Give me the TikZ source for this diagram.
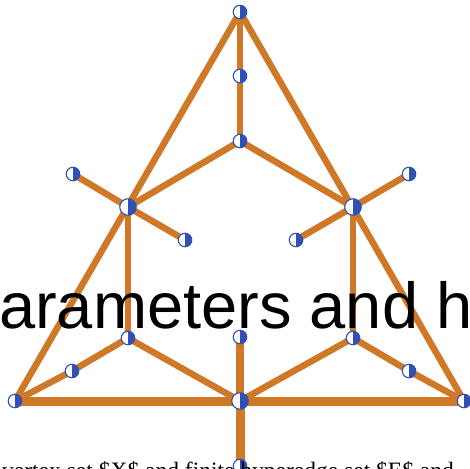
\documentclass[tikz,border=0pt]{standalone}
\usepackage{fontspec}
\setmainfont{Liberation Serif}
\newfontfamily\bigsans{Liberation Sans}
\usetikzlibrary{backgrounds}
\definecolor{edgeor}{RGB}{206,120,40}
\definecolor{vblue}{RGB}{48,80,180}
\tikzset{
  vtx/.style={circle, draw=vblue, line width=1.1pt, fill=white, inner sep=0pt, minimum size=13.5pt,
    path picture={\fill[vblue] (path picture bounding box.north) rectangle (path picture bounding box.south east);}},
  hub/.style={vtx, minimum size=16.5pt},
  ed/.style={draw=edgeor, line width=6.5pt, line cap=round},
  edthick/.style={draw=edgeor, line width=9pt},
}
\begin{document}
\begin{tikzpicture}[x=1pt,y=-1pt]
\useasboundingbox (0,0) rectangle (470,468);
% vertices
\node[vtx] (T) at (240,12) {};
\node[vtx] (T2) at (240,76) {};
\node[vtx] (C) at (240,141) {};
\node[hub] (L) at (128,207) {};
\node[hub] (R) at (353,207) {};
\node[vtx] (LL) at (73,174) {};
\node[vtx] (LR) at (185,240) {};
\node[vtx] (RL) at (296,240) {};
\node[vtx] (RR) at (409,174) {};
\node[vtx] (Ll) at (128,338) {};
\node[vtx] (Rl) at (353,338) {};
\node[vtx] (BLm) at (72,371) {};
\node[vtx] (BRm) at (409,371) {};
\node[vtx] (BL) at (15,401) {};
\node[vtx] (BR) at (464,401) {};
\node[vtx] (Mu) at (240,337) {};
\node[hub] (M) at (240,401) {};
\node[vtx] (B) at (240,466) {};
% edges
\begin{scope}[on background layer]
\draw[ed] (T.center) -- (BL.center);
\draw[ed] (T.center) -- (BR.center);
\draw[ed] (T.center) -- (T2.center) -- (C.center);
\draw[ed] (C.center) -- (L.center);
\draw[ed] (C.center) -- (R.center);
\draw[ed] (L.center) -- (LL.center);
\draw[ed] (L.center) -- (LR.center);
\draw[ed] (R.center) -- (RL.center);
\draw[ed] (R.center) -- (RR.center);
\draw[ed] (L.center) -- (Ll.center);
\draw[ed] (R.center) -- (Rl.center);
\draw[ed] (BL.center) -- (BLm.center) -- (Ll.center) -- (M.center);
\draw[ed] (BR.center) -- (BRm.center) -- (Rl.center) -- (M.center);
\draw[ed, line width=7.5pt] (M.center) -- (Mu.center);
\draw[edthick] (BL.center) -- (BR.center);
\draw[edthick] (M.center) -- (B.center);
\end{scope}
% texts
\node[anchor=base west, inner sep=0pt, font=\bigsans\fontsize{65}{78}\selectfont] (big) at (-1,328) {arameters and h};
\node[anchor=base west, inner sep=0pt, font=\fontsize{23.5}{28}\selectfont] (small) at (2,478) {vertex set \$X\$ and finite hyperedge set \$E\$ and};
\end{tikzpicture}
\end{document}
